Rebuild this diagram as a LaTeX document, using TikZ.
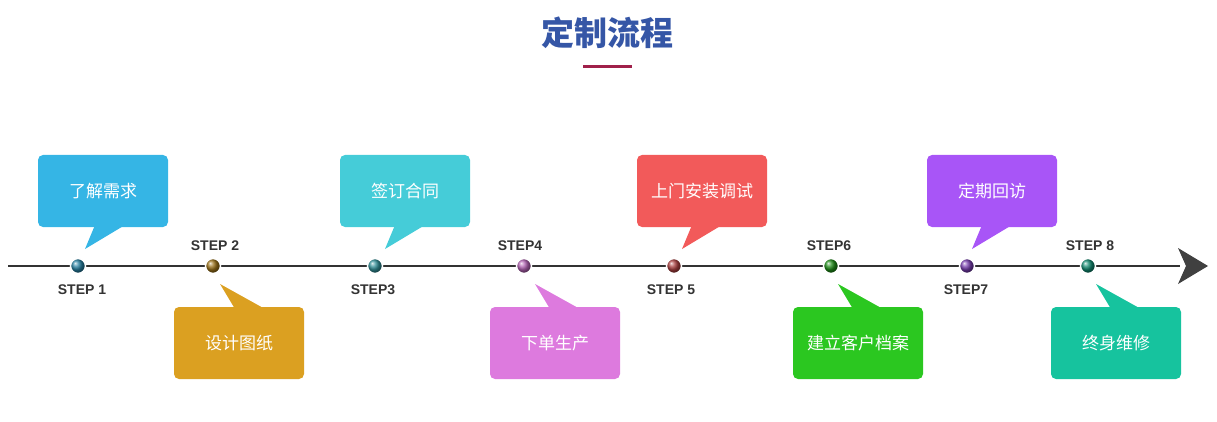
\documentclass[tikz,border=0pt]{standalone}
\usepackage{fontspec}
\setmainfont{Liberation Sans}
\newfontfamily\cjk{Noto Sans CJK SC}
\usetikzlibrary{positioning}
\definecolor{ctitle}{HTML}{3556A6}
\definecolor{cline}{HTML}{A0204A}
\definecolor{cA}{HTML}{35B5E5}
\definecolor{cB}{HTML}{DBA021}
\definecolor{cC}{HTML}{45CCD8}
\definecolor{cD}{HTML}{DD7ADE}
\definecolor{cE}{HTML}{F25A5A}
\definecolor{cF}{HTML}{2BC720}
\definecolor{cG}{HTML}{A855F7}
\definecolor{cH}{HTML}{16C39E}
\begin{document}
\begin{tikzpicture}[x=1pt,y=-1pt,thick]
\tikzstyle{box}=[rounded corners=5pt,minimum width=130pt,minimum height=72pt,text=white,font=\cjk\fontsize{17}{20}\selectfont,inner sep=0pt]
\tikzstyle{dot}=[circle,draw=white,line width=1.5pt,minimum size=15pt,inner sep=0pt]
\tikzstyle{st}=[font=\bfseries\fontsize{14}{16}\selectfont,text=black!80]
\useasboundingbox (0,0) rectangle (1217,422);
\node[text=ctitle,font=\cjk\bfseries\fontsize{33}{38}\selectfont] (title) at (607,33) {定制流程};
\draw[cline,line width=3pt] (583,67) -- (632,67);
% timeline
\coordinate (L) at (8,266);
\coordinate (R) at (1180,266);
\draw[black!80,line width=2.5pt] (L) -- (R);
\fill[black!75] (1178,248) -- (1208,266) -- (1178,284) -- (1186,266) -- cycle;
% boxes
\node[box,fill=cA] (b1) at (103,191) {了解需求};
\node[box,fill=cB] (b2) at (239,343) {设计图纸};
\node[box,fill=cC] (b3) at (405,191) {签订合同};
\node[box,fill=cD] (b4) at (555,343) {下单生产};
\node[box,fill=cE] (b5) at (702,191) {上门安装调试};
\node[box,fill=cF] (b6) at (858,343) {建立客户档案};
\node[box,fill=cG] (b7) at (992,191) {定期回访};
\node[box,fill=cH] (b8) at (1116,343) {终身维修};
% tails
\fill[cA] (85,249) -- (95,225) -- (125,225) -- cycle;
\fill[cB] (220,284) -- (235,309) -- (265,309) -- cycle;
\fill[cC] (385,249) -- (395,225) -- (425,225) -- cycle;
\fill[cD] (535,284) -- (550,309) -- (580,309) -- cycle;
\fill[cE] (682,249) -- (692,225) -- (722,225) -- cycle;
\fill[cF] (838,284) -- (853,309) -- (883,309) -- cycle;
\fill[cG] (972,249) -- (982,225) -- (1012,225) -- cycle;
\fill[cH] (1096,284) -- (1111,309) -- (1141,309) -- cycle;
% dots
\node[dot,ball color=cA!70!black] (d1) at (78,266) {};
\node[dot,ball color=cB!70!black] (d2) at (213,266) {};
\node[dot,ball color=cC!70!black] (d3) at (375,266) {};
\node[dot,ball color=cD!80!black] (d4) at (524,266) {};
\node[dot,ball color=cE!70!black] (d5) at (674,266) {};
\node[dot,ball color=cF!70!black] (d6) at (831,266) {};
\node[dot,ball color=cG!70!black] (d7) at (967,266) {};
\node[dot,ball color=cH!70!black] (d8) at (1088,266) {};
% step labels
\node[st] (s1) at (82,290) {STEP 1};
\node[st] (s2) at (215,246) {STEP 2};
\node[st] (s3) at (373,290) {STEP3};
\node[st] (s4) at (520,246) {STEP4};
\node[st] (s5) at (671,290) {STEP 5};
\node[st] (s6) at (829,246) {STEP6};
\node[st] (s7) at (966,290) {STEP7};
\node[st] (s8) at (1090,246) {STEP 8};
\end{tikzpicture}
\end{document}
